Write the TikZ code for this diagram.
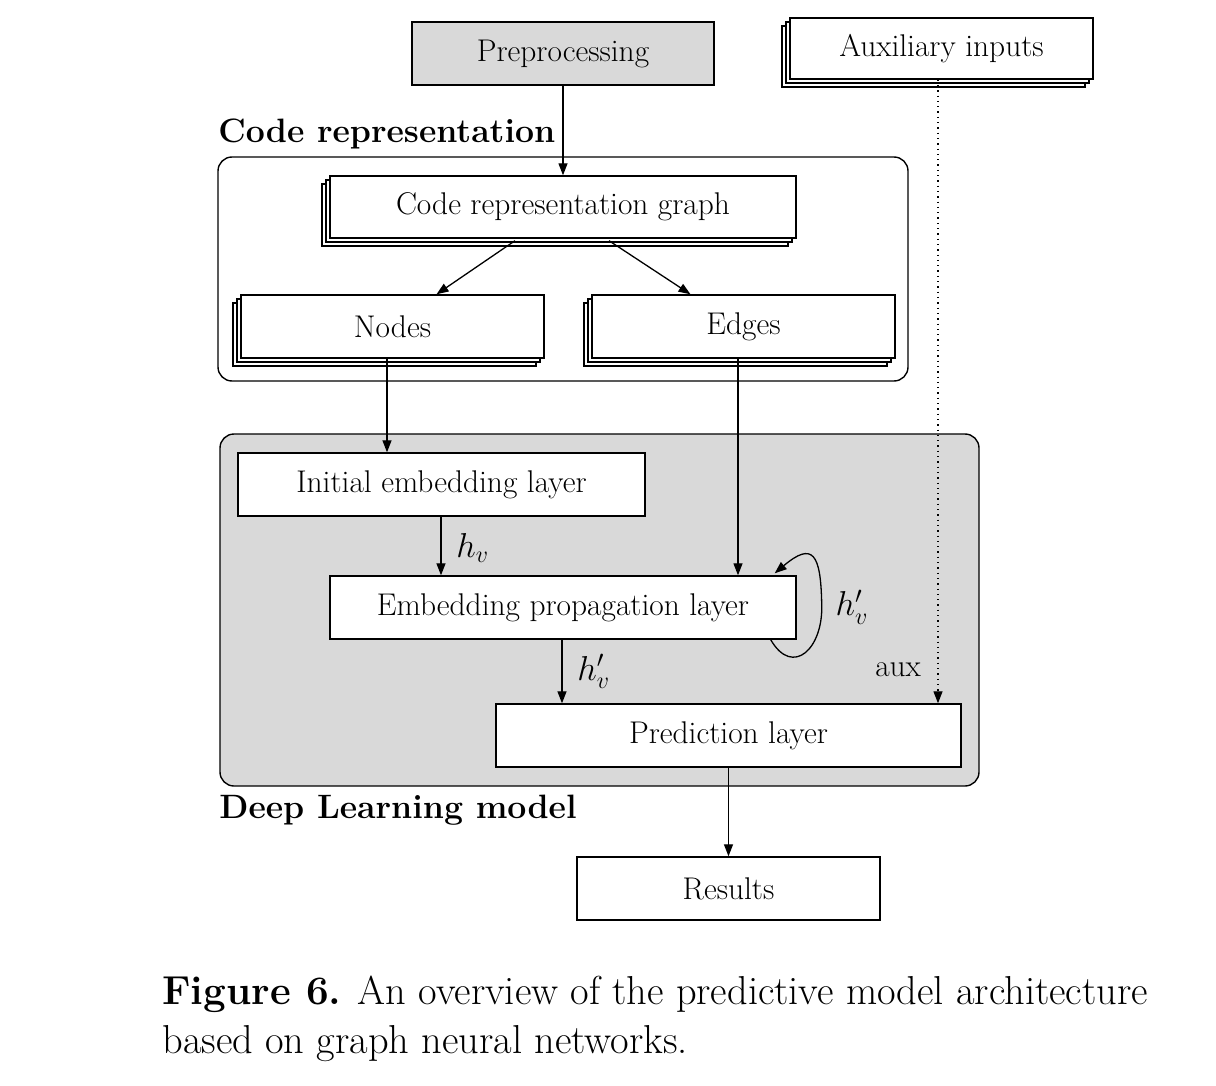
\documentclass[tikz,border=0pt]{standalone}
\usetikzlibrary{shadows,arrows.meta,calc}
\definecolor{boxgray}{HTML}{D9D9D9}
\begin{document}
\begin{tikzpicture}[x=0.5pt,y=-0.5pt,
  every node/.style={font=\fontsize{15.7}{18}\selectfont},
  box/.style={draw,line width=0.7pt,fill=white,inner sep=0pt,minimum height=31.5pt},
  stackbox/.style={box,double copy shadow={shadow xshift=-2pt,shadow yshift=-2pt,draw,line width=0.7pt,fill=white}},
  container/.style={draw,line width=0.7pt,rounded corners=7pt,inner sep=0pt},
  arr/.style={-{Triangle[length=6pt,width=4.5pt]},line width=0.65pt},
  lbl/.style={font=\fontsize{17}{19}\selectfont}]
\useasboundingbox (0,0) rectangle (1216,1086);

% containers
\node[container,minimum width=345pt,minimum height=112pt] (crbox) at (563,269) {};
\node[container,fill=boxgray,minimum width=379.5pt,minimum height=176pt] (dlbox) at (599.5,610) {};

\node[anchor=base west,font=\fontsize{16.9}{19}\selectfont\bfseries,inner sep=0pt] (crlabel) at (218,142) {Code representation};
\node[anchor=base west,font=\fontsize{16.9}{19}\selectfont\bfseries,inner sep=0pt] (dllabel) at (219,818) {Deep Learning model};

% boxes
\node[box,fill=boxgray,minimum width=151pt] (pre) at (563,53.5) {Preprocessing};
\node[stackbox,minimum width=151.5pt,minimum height=30.5pt] (aux) at (941.5,48.5) {Auxiliary inputs};
\node[stackbox,minimum width=233pt,minimum height=31pt] (crg) at (563,207) {Code representation graph};
\node[stackbox,minimum width=151.5pt] (nodes) at (392.5,326.5) {Nodes};
\node[stackbox,minimum width=151.5pt] (edges) at (743.5,326.5) {Edges};
\node[box,minimum width=203.5pt] (init) at (441.5,484.5) {Initial embedding layer};
\node[box,minimum width=233pt] (emb) at (563,607.5) {Embedding propagation layer};
\node[box,minimum width=232.5pt] (pred) at (728.5,735.5) {Prediction layer};
\node[box,minimum width=151.5pt] (res) at (728.5,888.5) {Results};

% connectors
\draw[arr] (pre.south) -- (crg.north);
\draw[arr] ($(crg.south)+(-48,2)$) -- ($(nodes.north)+(44,0)$);
\draw[arr] ($(crg.south)+(46,2)$) -- ($(edges.north)+(-53,0)$);
\draw[arr] (nodes.south -| 387,0) -- (init.north -| 387,0);
\draw[arr] (edges.south -| 738,0) -- (emb.north -| 738,0);
\draw[arr] (init.south -| 441,0) -- node[right,lbl,xshift=4pt,yshift=-1pt] (hv) {$h_v$} (emb.north -| 441,0);
\draw[arr] (emb.south -| 562,0) -- node[right,lbl,xshift=4pt,yshift=0pt] (hv2) {$h'_v$} (pred.north -| 562,0);
\draw[arr] ($(emb.south east)+(-26,0)$) .. controls +(22,38) and +(2,45) .. ($(emb.east)+(25,-4)$)
   .. controls +(-1,-50) and +(38,-32) .. ($(emb.north east)+(-22,-2)$);
\node[lbl] (hv3) at (852,607) {$h'_v$};
\draw[arr,dotted,line width=0.6pt] (aux.south -| 938,0) -- (pred.north -| 938,0);
\node[lbl,anchor=east,font=\fontsize{15.7}{18}\selectfont] (auxlbl) at (928,670) {aux};
\draw[arr] (pred.south) -- (res.north);

% caption
\node[anchor=base west,inner sep=0pt,font=\fontsize{20.2}{24}\selectfont] (cap1) at (162,1004) {\textbf{Figure 6.} An overview of the predictive model architecture};
\node[anchor=base west,inner sep=0pt,font=\fontsize{20.2}{24}\selectfont] (cap2) at (162,1053) {based on graph neural networks.};
\end{tikzpicture}
\end{document}
